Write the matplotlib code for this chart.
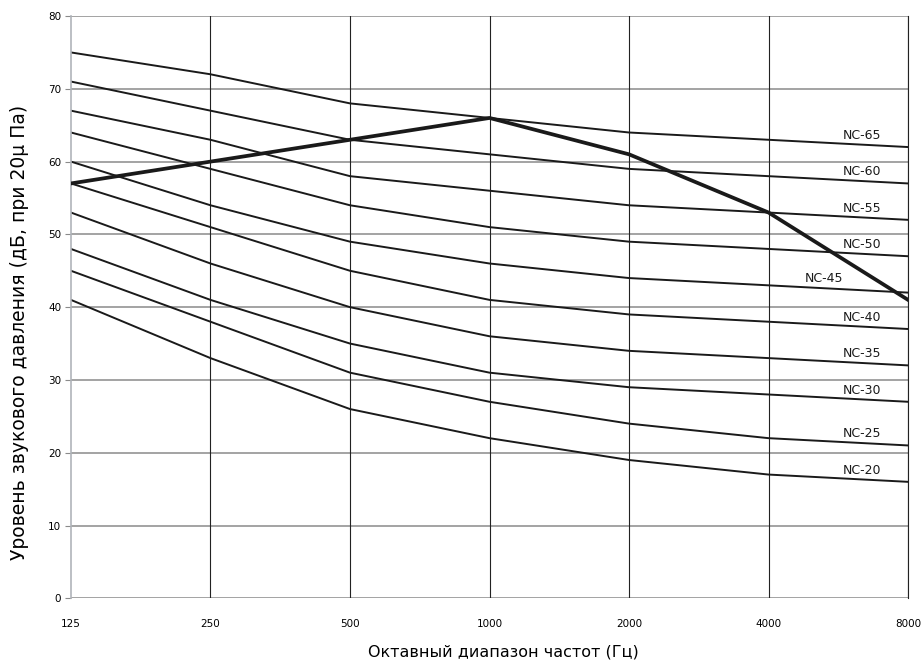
import matplotlib.pyplot as plt
import numpy as np

plt.rcParams['font.family'] = ['DejaVu Sans']

freqs = ['125', '250', '500', '1000', '2000', '4000', '8000']
nc_names = ['NC-65', 'NC-60', 'NC-55', 'NC-50', 'NC-45',
            'NC-40', 'NC-35', 'NC-30', 'NC-25', 'NC-20']
nc_values = [
    [75, 72, 68, 66, 64, 63, 62],
    [71, 67, 63, 61, 59, 58, 57],
    [67, 63, 58, 56, 54, 53, 52],
    [64, 59, 54, 51, 49, 48, 47],
    [60, 54, 49, 46, 44, 43, 42],
    [57, 51, 45, 41, 39, 38, 37],
    [53, 46, 40, 36, 34, 33, 32],
    [48, 41, 35, 31, 29, 28, 27],
    [45, 38, 31, 27, 24, 22, 21],
    [41, 33, 26, 22, 19, 17, 16],
]
measured = [57, 60, 63, 66, 61, 53, 41]

fig = plt.figure(figsize=(9.24, 6.69), dpi=100)
ax = fig.add_axes([0.0768, 0.1057, 0.906, 0.8703])

x = np.arange(len(freqs))

# grid: gray horizontals, dark verticals
for yv in range(0, 81, 10):
    ax.axhline(yv, color='#8a8a8a', lw=1.1, zorder=1)
for xv in x[1:]:
    ax.axvline(xv, color='#222222', lw=0.8, zorder=1)

for name, vals in zip(nc_names, nc_values):
    ax.plot(x, vals, color='#1a1a1a', lw=1.4, zorder=2)
    lx = 5.4 if name == 'NC-45' else 5.67
    ly = np.interp(lx, x, vals)
    ax.annotate(name, (lx, ly), xytext=(0, 2), textcoords='offset points',
                ha='center', va='bottom', fontsize=9, color='#1a1a1a')

ax.plot(x, measured, color='#1a1a1a', lw=2.7, zorder=3)

ax.set_xlim(0, len(freqs) - 1)
ax.set_ylim(0, 80)
ax.set_xticks(x)
ax.set_xticklabels(freqs, fontsize=7.5)
ax.set_yticks(range(0, 81, 10))
ax.tick_params(axis='x', length=0, pad=15)
ax.tick_params(axis='y', length=4, color='#8a8a8a', labelsize=7.5, pad=3)

for side in ['top', 'bottom']:
    ax.spines[side].set_visible(False)
ax.spines['left'].set_color('#b0b4ba')
ax.spines['left'].set_linewidth(1.2)
ax.spines['right'].set_color('#222222')
ax.spines['right'].set_linewidth(0.8)

ax.set_xlabel('Октавный диапазон частот (Гц)', fontsize=11.5)
ax.set_ylabel('Уровень звукового давления (дБ, при 20μ Па)', fontsize=13.5)
ax.xaxis.set_label_coords(0.516, -0.08)
ax.yaxis.set_label_coords(-0.05, 0.457)

fig.savefig('out.png', dpi=100)
